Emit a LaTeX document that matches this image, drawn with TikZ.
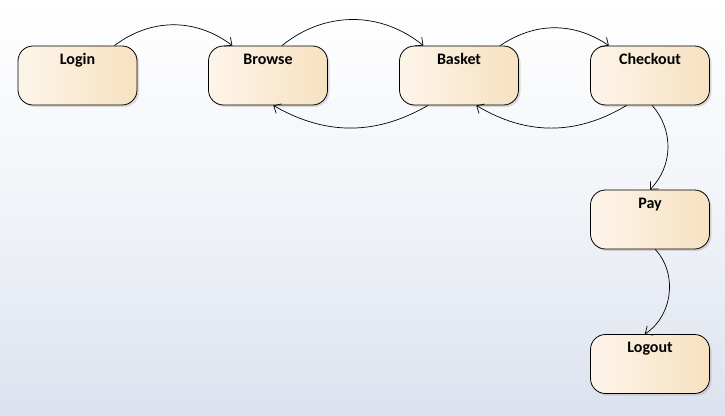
\documentclass[tikz,border=0pt]{standalone}
\usepackage{fontspec}
\setmainfont{Carlito}
\usetikzlibrary{arrows.meta,shadows}

\definecolor{bgbottom}{RGB}{220,226,238}
\definecolor{boxleft}{RGB}{253,245,234}
\definecolor{boxright}{RGB}{247,225,193}

\begin{document}
\begin{tikzpicture}[x=1pt,y=1pt,
  state/.style={draw=black,line width=0.8pt,rounded corners=15pt,
    left color=boxleft,right color=boxright,
    minimum width=119pt,inner sep=0pt,text height=18pt,text depth=41pt,
    font=\fontsize{16}{19}\selectfont\bfseries,
    drop shadow={shadow xshift=2pt,shadow yshift=-2pt,opacity=0.25}},
  trans/.style={line width=0.7pt,-{Straight Barb[length=6pt,width=11pt]}}]
% Background
\shade[top color=white,bottom color=bgbottom,middle color=white!60!bgbottom]
  (0,0) rectangle (725,-415);
\useasboundingbox (0,0) rectangle (725,-415);

% States, top row
\node[state] (login) at (77.5,-75.5) {Login};
\node[state] (browse) at (268,-75.5) {Browse};
\node[state] (basket) at (459,-75.5) {Basket};
\node[state] (checkout) at (650,-75.5) {Checkout};

% States, right column
\node[state] (pay) at (650,-219.5) {Pay};
\node[state] (logout) at (650,-364) {Logout};

% Transitions
\draw[trans] (login.39) to[bend left=37] (browse.140);
\draw[trans] (browse.65) to[bend left=39] (basket.140);
\draw[trans] (basket.224) to[bend left=30] (browse.-80);
\draw[trans] (basket.36) to[bend left=34] (checkout.144);
\draw[trans] (checkout.232) to[bend left=31] (basket.-60);
\draw[trans] (checkout.-86) to[bend left=43] (pay.90);
\draw[trans] (pay.-80) to[bend left=50] (logout.100);
\end{tikzpicture}
\end{document}
